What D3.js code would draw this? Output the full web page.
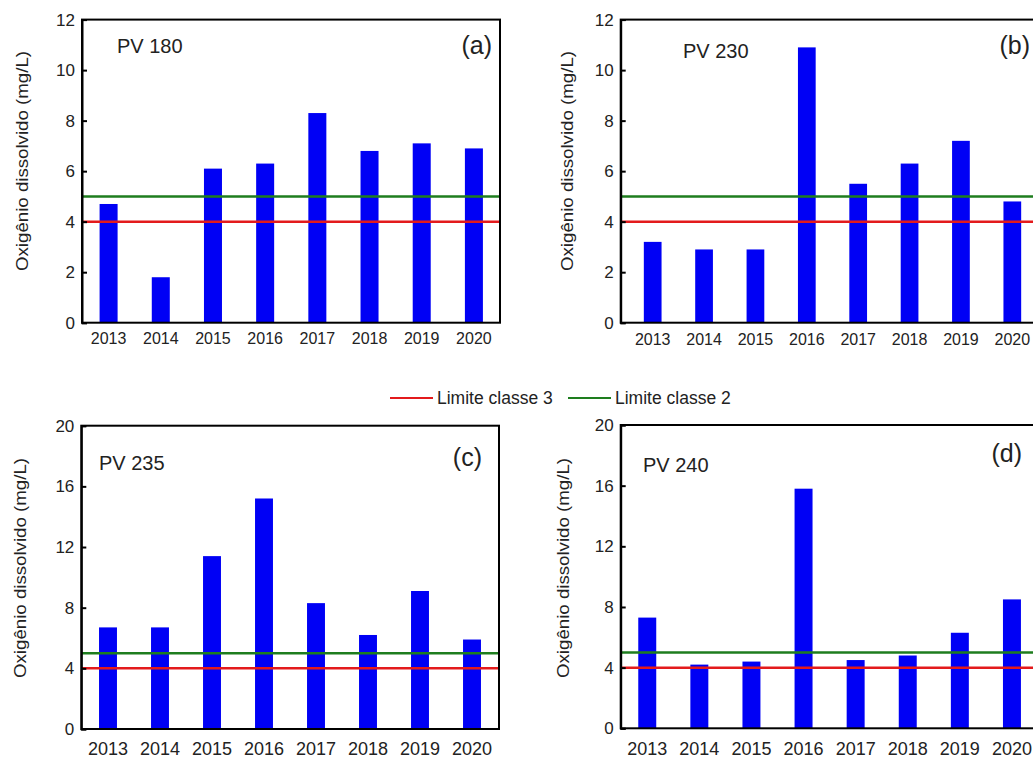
<!DOCTYPE html>
<html><head><meta charset="utf-8">
<script src="https://cdn.jsdelivr.net/npm/d3@7"></script>
<style>
html,body{margin:0;padding:0;background:#fff;overflow:hidden;}
text{font-family:Arial,"Liberation Sans",sans-serif;fill:#222;}
</style></head>
<body>
<svg id="chart" width="1033" height="758"></svg>
<script>
// ---- data ----
const years = ["2013","2014","2015","2016","2017","2018","2019","2020"];
const pv180 = [4.7, 1.8, 6.1, 6.3, 8.3, 6.8, 7.1, 6.9];
const pv230 = [3.2, 2.9, 2.9, 10.9, 5.5, 6.3, 7.2, 4.8];
const pv235 = [6.7, 6.7, 11.4, 15.2, 8.3, 6.2, 9.1, 5.9];
const pv240 = [7.3, 4.2, 4.4, 15.8, 4.5, 4.8, 6.3, 8.5];
const stationNames = ["PV 180", "PV 230", "PV 235", "PV 240"];
const panelLetters = ["(a)", "(b)", "(c)", "(d)"];
const yTicksTop = [0, 2, 4, 6, 8, 10, 12];
const yTicksBottom = [0, 4, 8, 12, 16, 20];
const limitNames = ["Limite classe 3", "Limite classe 2"];
const limitValues = [4, 5];
const limitColors = ["#e31a1c", "#1e7d1e"];
const yLabel = "Oxigênio dissolvido (mg/L)";

// ---- layout ----
const panels = [
  {vals: pv180, ymax: 12, ticks: yTicksTop, fx0: 82, fx1: 500, fy0: 19.6, fy1: 322.7, bx0: 82.5, bx1: 500,
   xfs: 16, xpad: 10, lx: 22, ly: 161, nx: 117, ny: 53, px: 492, py: 54},
  {vals: pv230, ymax: 12, ticks: yTicksTop, fx0: 620.7, fx1: 1042, fy0: 19.6, fy1: 322.7, bx0: 627, bx1: 1038,
   xfs: 16, xpad: 11, lx: 567, ly: 161, nx: 683, ny: 58, px: 1030, py: 54},
  {vals: pv235, ymax: 20, ticks: yTicksBottom, fx0: 81.3, fx1: 499, fy0: 425.7, fy1: 729, bx0: 82, bx1: 498,
   xfs: 18, xpad: 13, lx: 20, ly: 568, nx: 99, ny: 470, px: 482, py: 466},
  {vals: pv240, ymax: 20, ticks: yTicksBottom, fx0: 620.7, fx1: 1042, fy0: 425, fy1: 728.3, bx0: 621.2, bx1: 1038,
   xfs: 18, xpad: 14, lx: 563, ly: 568, nx: 643, ny: 472, px: 1022, py: 462}
];

const svg = d3.select("#chart");
svg.append("rect").attr("width", 1033).attr("height", 758).attr("fill", "#fff");

panels.forEach((p, i) => {
  const g = svg.append("g");
  const x = d3.scaleBand().domain(years).range([p.bx0, p.bx1]).paddingInner(0.655).paddingOuter(0.3275);
  const y = d3.scaleLinear().domain([0, p.ymax]).range([p.fy1, p.fy0]);

  // bars
  g.selectAll("rect.bar").data(p.vals).join("rect")
    .attr("class", "bar")
    .attr("x", (d, j) => x(years[j]))
    .attr("width", x.bandwidth())
    .attr("y", d => y(d))
    .attr("height", d => y(0) - y(d))
    .attr("fill", "#0000f5");

  // threshold lines
  g.selectAll("line.lim").data(limitValues).join("line")
    .attr("class", "lim")
    .attr("x1", p.fx0).attr("x2", p.fx1)
    .attr("y1", d => y(d)).attr("y2", d => y(d))
    .attr("stroke", (d, j) => limitColors[j])
    .attr("stroke-width", 2.5);

  // frame
  g.append("rect")
    .attr("x", p.fx0).attr("y", p.fy0)
    .attr("width", p.fx1 - p.fx0).attr("height", p.fy1 - p.fy0)
    .attr("fill", "none").attr("stroke", "#000").attr("stroke-width", 2);

  // y axis
  const ya = g.append("g").attr("transform", `translate(${p.fx0},0)`)
    .call(d3.axisLeft(y).tickValues(p.ticks).tickSize(-5).tickPadding(7).tickFormat(d3.format("d")));
  ya.select(".domain").attr("stroke", "#000").attr("stroke-width", 2);
  ya.selectAll(".tick line").attr("stroke", "#000").attr("stroke-width", 2);
  ya.selectAll(".tick text").style("font-size", "17px").attr("fill", "#222")
    .style("font-family", "Arial, 'Liberation Sans', sans-serif");

  // x axis
  const xa = g.append("g").attr("transform", `translate(0,${p.fy1})`)
    .call(d3.axisBottom(x).tickSize(0).tickPadding(p.xpad));
  xa.select(".domain").remove();
  xa.selectAll(".tick text").style("font-size", p.xfs + "px").attr("fill", "#222")
    .style("font-family", "Arial, 'Liberation Sans', sans-serif");

  // y label
  g.append("text")
    .attr("transform", `translate(${p.lx},${p.ly}) rotate(-90)`)
    .attr("text-anchor", "middle").attr("dy", "0.35em")
    .attr("textLength", 220).attr("lengthAdjust", "spacingAndGlyphs")
    .style("font-size", "16px")
    .text(yLabel);

  // station name
  g.append("text").attr("x", p.nx).attr("y", p.ny)
    .style("font-size", "20px").text(stationNames[i]);
  // panel letter
  g.append("text").attr("x", p.px).attr("y", p.py)
    .attr("text-anchor", "end").style("font-size", "25px").text(panelLetters[i]);
});

// legend
const legX = [390, 568];
const leg = svg.append("g");
limitNames.forEach((n, j) => {
  leg.append("line").attr("x1", legX[j]).attr("x2", legX[j] + 43)
    .attr("y1", 398).attr("y2", 398)
    .attr("stroke", limitColors[j]).attr("stroke-width", 2);
  leg.append("text").attr("x", legX[j] + 47).attr("y", 398).attr("dy", "0.35em")
    .style("font-size", "17.5px").text(n);
});
</script>
</body></html>
